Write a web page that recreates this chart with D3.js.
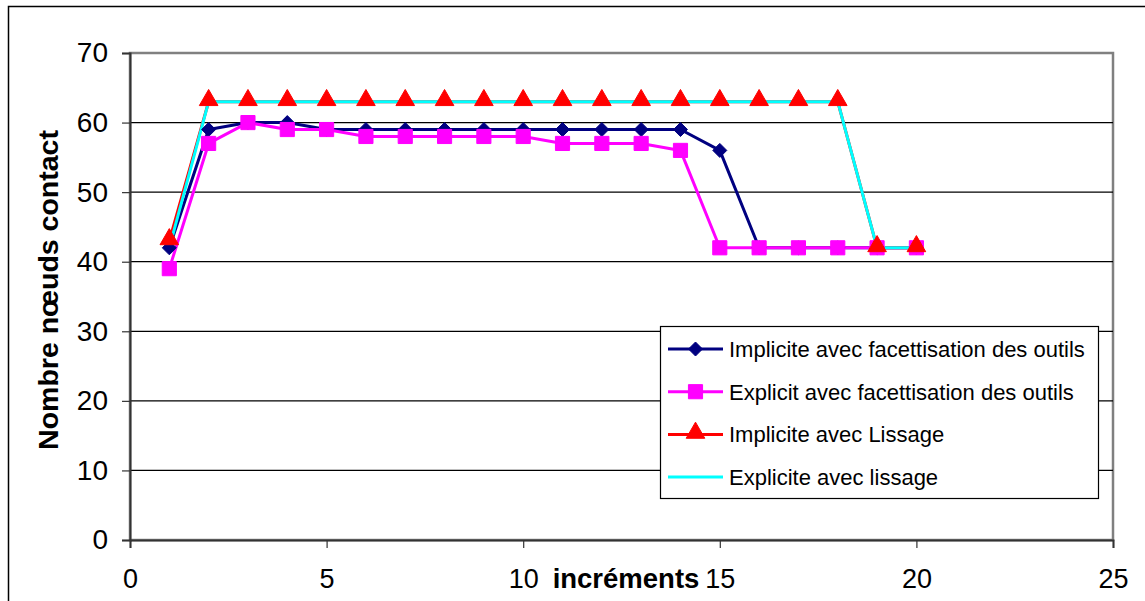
<!DOCTYPE html>
<html>
<head>
<meta charset="utf-8">
<script src="https://cdn.jsdelivr.net/npm/d3@7"></script>
<style>
  html, body { margin: 0; padding: 0; background: #fff; }
  svg { display: block; }
  text { font-family: "Liberation Sans", Arial, sans-serif; fill: #000; }
</style>
</head>
<body>
<svg id="chart" width="1145" height="601"></svg>
<script>
// ---- Data ----
const increments = [1,2,3,4,5,6,7,8,9,10,11,12,13,14,15,16,17,18,19,20];
const impliciteFacettisation = [42,59,60,60,59,59,59,59,59,59,59,59,59,59,56,42,42,42,42,42];
const expliciteFacettisation = [39,57,60,59,59,58,58,58,58,58,57,57,57,56,42,42,42,42,42,42];
const impliciteLissage = [43,63,63,63,63,63,63,63,63,63,63,63,63,63,63,63,63,63,42,42];
const expliciteLissage = [42,63,63,63,63,63,63,63,63,63,63,63,63,63,63,63,63,63,42,42];
const seriesNames = [
  "Implicite avec facettisation des outils",
  "Explicit avec facettisation des outils",
  "Implicite avec Lissage",
  "Explicite avec lissage"
];
const xTicks = [0,5,10,15,20,25];
const yTicks = [0,10,20,30,40,50,60,70];
const xTitle = "incréments";
const yTitle = "Nombre nœuds contact";

// ---- Styles ----
const series = [
  { name: seriesNames[0], values: impliciteFacettisation, color: "#000080", marker: "diamond" },
  { name: seriesNames[1], values: expliciteFacettisation, color: "#FF00FF", marker: "square" },
  { name: seriesNames[2], values: impliciteLissage, color: "#FF0000", marker: "triangle" },
  { name: seriesNames[3], values: expliciteLissage, color: "#00FFFF", marker: null }
];

const svg = d3.select("#chart");
const L = 130, R = 1113, T = 53, B = 540;
const x = d3.scaleLinear().domain([0, 25]).range([L, R]);
const y = d3.scaleLinear().domain([0, 70]).range([B, T]);

// outer frame
svg.append("rect").attr("x", 8.5).attr("y", 6.5).attr("width", 1160).attr("height", 620)
  .attr("fill", "#fff").attr("stroke", "#000").attr("stroke-width", 1.5);

// plot area
svg.append("rect").attr("x", L).attr("y", T).attr("width", R - L).attr("height", B - T)
  .attr("fill", "#fff").attr("stroke", "#808080").attr("stroke-width", 2.5);

// gridlines
svg.append("g").selectAll("line").data(yTicks.filter(d => d > 0 && d < 70)).join("line")
  .attr("x1", L).attr("x2", R).attr("y1", d => y(d)).attr("y2", d => y(d))
  .attr("stroke", "#000").attr("stroke-width", 1.2);

// axes
const yAxis = d3.axisLeft(y).tickValues(yTicks).tickSize(8).tickPadding(14).tickFormat(d3.format("d"));
const gy = svg.append("g").attr("transform", `translate(${L},0)`).call(yAxis);
gy.select(".domain").attr("stroke", "#333").attr("stroke-width", 2);
gy.selectAll(".tick line").attr("stroke", "#333").attr("stroke-width", 1.2);
gy.selectAll(".tick text").attr("font-size", 28).attr("font-family", "Liberation Sans, Arial, sans-serif").attr("fill", "#000");

const xAxis = d3.axisBottom(x).tickValues(xTicks).tickSize(8).tickPadding(14).tickFormat(d3.format("d"));
const gx = svg.append("g").attr("transform", `translate(0,${B})`).call(xAxis);
gx.select(".domain").attr("stroke", "#333").attr("stroke-width", 2);
gx.selectAll(".tick line").attr("stroke", "#333").attr("stroke-width", 1.2);
gx.selectAll(".tick text").attr("font-size", 27).attr("font-family", "Liberation Sans, Arial, sans-serif").attr("fill", "#000")
  .attr("dy", null).attr("y", 48);

// axis titles
svg.append("text").attr("x", 626).attr("y", 588).attr("text-anchor", "middle")
  .attr("font-size", 27.5).attr("font-weight", "bold").text(xTitle);
svg.append("text").attr("transform", "translate(58,290) rotate(-90)").attr("text-anchor", "middle")
  .attr("font-size", 28.5).attr("font-weight", "bold").text(yTitle);

// lines
const line = d3.line().x((d, i) => x(increments[i])).y(d => y(d));
const gLines = svg.append("g");
series.forEach(s => {
  gLines.append("path").datum(s.values).attr("d", line)
    .attr("fill", "none").attr("stroke", s.color).attr("stroke-width", 3).attr("stroke-linejoin", "round");
});

// markers
const diamondPath = "M0,-7L7,0L0,7L-7,0Z";
const sym = {
  square: d3.symbol().type(d3.symbolSquare).size(200),
  triangle: d3.symbol().type(d3.symbolTriangle).size(150)
};
function drawMarker(g, type, cx, cy, color) {
  if (!type) return;
  let dy = 0;
  if (type === "triangle") dy = -1.5;
  const d = type === "diamond" ? diamondPath : sym[type]();
  g.append("path").attr("d", d).attr("transform", `translate(${cx},${cy + dy})`)
    .attr("fill", color).attr("stroke", color).attr("stroke-width", 1);
}
series.forEach(s => {
  const g = svg.append("g");
  s.values.forEach((v, i) => drawMarker(g, s.marker, x(increments[i]), y(v), s.color));
});

// legend
const lg = svg.append("g");
lg.append("rect").attr("x", 660.5).attr("y", 326.5).attr("width", 438).attr("height", 172)
  .attr("fill", "#fff").attr("stroke", "#000").attr("stroke-width", 1.2);
series.forEach((s, i) => {
  const cy = 349 + i * 42.7;
  lg.append("line").attr("x1", 668).attr("x2", 723).attr("y1", cy).attr("y2", cy)
    .attr("stroke", s.color).attr("stroke-width", 3);
  drawMarker(lg, s.marker, 695.5, cy, s.color);
  lg.append("text").attr("x", 729).attr("y", cy + 8).attr("font-size", 22).text(s.name);
});
</script>
</body>
</html>
